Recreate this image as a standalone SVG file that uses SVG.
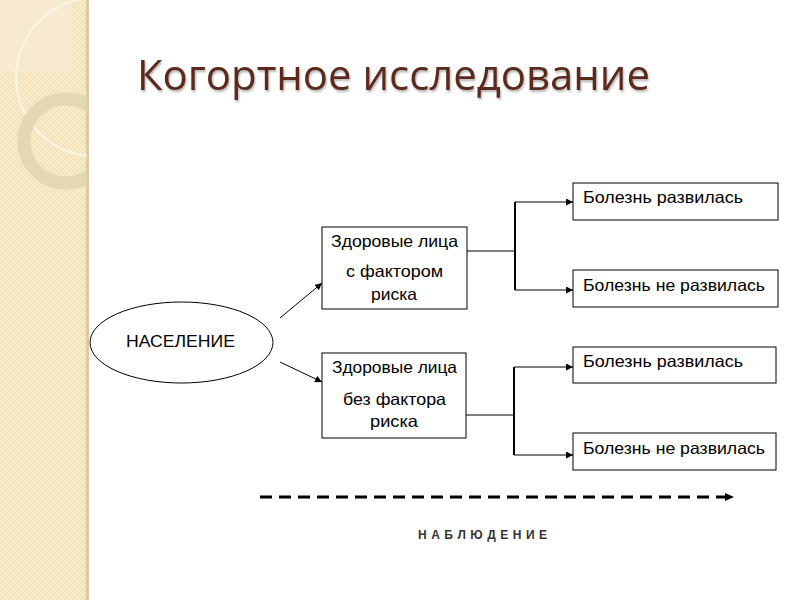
<svg xmlns="http://www.w3.org/2000/svg" width="800" height="600" viewBox="0 0 800 600">
<defs>
<pattern id="chk" width="4" height="4" patternUnits="userSpaceOnUse">
<rect width="4" height="4" fill="#f3e2b6"/>
<rect width="2" height="2" fill="#f8ecce"/>
<rect x="2" y="2" width="2" height="2" fill="#f8ecce"/>
</pattern>
<clipPath id="strip"><rect x="0" y="0" width="87" height="600"/></clipPath>
<marker id="ah" viewBox="0 0 10 10" refX="10" refY="5" markerWidth="7" markerHeight="7" markerUnits="userSpaceOnUse" orient="auto">
<path d="M0,0 L10,5 L0,10 z" fill="#000"/>
</marker>
</defs>
<style>
.box{fill:#fff;stroke:#000;stroke-width:1}
.t{font-family:"Liberation Sans",Arial,sans-serif;font-size:16.5px;fill:#000}
.c{text-anchor:middle}
.ln{stroke:#000;stroke-width:1;fill:none}
.br{stroke:#000;stroke-width:2;fill:none}
</style>
<rect width="800" height="600" fill="#fff"/>
<g id="background">
<rect x="0" y="0" width="88" height="600" fill="url(#chk)"/>
<rect x="86" y="0" width="3" height="600" fill="#ddcba4"/>
<g clip-path="url(#strip)">
<rect x="0" y="0" width="72" height="72" fill="#f7edd6" opacity="0.7"/>
<circle cx="95" cy="77" r="79" fill="none" stroke="#fbf5e6" stroke-width="2"/>
<circle cx="66" cy="141" r="42" fill="none" stroke="#e0d3ae" stroke-width="13" opacity="0.85"/>
</g>
</g>
<text id="title" x="137" y="90" font-family="'Open Sans','Liberation Sans',sans-serif" font-size="42" fill="#5b2a1c" textLength="513" lengthAdjust="spacingAndGlyphs" style="filter:drop-shadow(1px 2px 1px rgba(0,0,0,0.3))">Когортное исследование</text>
<g id="connectors">
<line class="ln" x1="280" y1="318" x2="322" y2="283" marker-end="url(#ah)"/>
<line class="ln" x1="280" y1="362" x2="322" y2="382" marker-end="url(#ah)"/>
<line class="ln" x1="467" y1="251" x2="515" y2="251"/>
<line class="br" x1="515" y1="202" x2="515" y2="290"/>
<line class="ln" x1="515" y1="202" x2="573" y2="202" marker-end="url(#ah)"/>
<line class="ln" x1="515" y1="290" x2="573" y2="290" marker-end="url(#ah)"/>
<line class="ln" x1="466" y1="415" x2="514" y2="415"/>
<line class="br" x1="514" y1="367" x2="514" y2="455"/>
<line class="ln" x1="514" y1="367" x2="573" y2="367" marker-end="url(#ah)"/>
<line class="ln" x1="514" y1="455" x2="573" y2="455" marker-end="url(#ah)"/>
<line x1="260" y1="497" x2="725" y2="497" stroke="#000" stroke-width="3" stroke-dasharray="12,7"/>
<path d="M725,493 L734,497 L725,501 z" fill="#000"/>
</g>
<g id="n-population">
<ellipse cx="181.5" cy="342.5" rx="91.5" ry="40.5" fill="#fff" stroke="#000" stroke-width="1"/>
<text class="t" x="126" y="347" textLength="109" lengthAdjust="spacingAndGlyphs">НАСЕЛЕНИЕ</text>
</g>
<g id="n-risk">
<rect class="box" x="322" y="227" width="145" height="82"/>
<text class="t" x="331" y="247" textLength="127" lengthAdjust="spacingAndGlyphs">Здоровые лица</text>
<text class="t" x="346" y="277" textLength="97" lengthAdjust="spacingAndGlyphs">с фактором</text>
<text class="t" x="371" y="300" textLength="46" lengthAdjust="spacingAndGlyphs">риска</text>
</g>
<g id="n-norisk">
<rect class="box" x="322" y="353" width="144" height="85"/>
<text class="t" x="332" y="373" textLength="125" lengthAdjust="spacingAndGlyphs">Здоровые лица</text>
<text class="t" x="343" y="405" textLength="103" lengthAdjust="spacingAndGlyphs">без фактора</text>
<text class="t" x="370" y="427" textLength="48" lengthAdjust="spacingAndGlyphs">риска</text>
</g>
<g id="n-r1">
<rect class="box" x="573" y="183" width="205" height="37"/>
<text class="t" x="583" y="203" textLength="160" lengthAdjust="spacingAndGlyphs">Болезнь развилась</text>
</g>
<g id="n-r2">
<rect class="box" x="573" y="270" width="205" height="37"/>
<text class="t" x="583" y="291" textLength="182" lengthAdjust="spacingAndGlyphs">Болезнь не развилась</text>
</g>
<g id="n-r3">
<rect class="box" x="573" y="347" width="203" height="36"/>
<text class="t" x="583" y="367" textLength="160" lengthAdjust="spacingAndGlyphs">Болезнь развилась</text>
</g>
<g id="n-r4">
<rect class="box" x="573" y="433" width="203" height="37"/>
<text class="t" x="583" y="454" textLength="182" lengthAdjust="spacingAndGlyphs">Болезнь не развилась</text>
</g>
<text id="obs" x="418" y="539" font-family="'Liberation Sans',Arial,sans-serif" font-size="12" font-weight="bold" fill="#333" textLength="129" lengthAdjust="spacing">Н А Б Л Ю Д Е Н И Е</text>
</svg>
